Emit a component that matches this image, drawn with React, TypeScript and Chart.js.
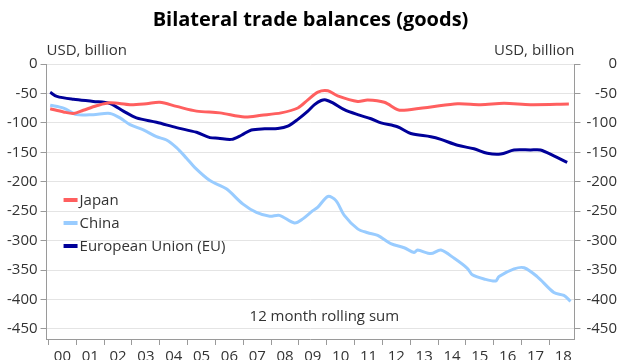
import React, { useEffect, useRef } from 'react';
import { Chart, registerables } from 'chart.js';

Chart.register(...registerables);

const yearLabels = ['00', '01', '02', '03', '04', '05', '06', '07', '08', '09', '10', '11', '12', '13', '14', '15', '16', '17', '18'];
const yTickValues = [0, -50, -100, -150, -200, -250, -300, -350, -400, -450];

const japanYears = [2000.06, 2000.54, 2000.9, 2001.25, 2001.73, 2002.21, 2002.93, 2003.52, 2004.0, 2004.6, 2005.32, 2006.16, 2007.05, 2007.65, 2008.36, 2008.96, 2009.32, 2009.68, 2010.04, 2010.39, 2011.11, 2011.47, 2012.07, 2012.54, 2012.78, 2013.74, 2014.7, 2015.53, 2016.37, 2017.32, 2018.7];
const japanValues = [-76, -81.5, -84, -78.6, -71, -66, -69, -67.4, -65, -72, -80, -83, -90, -87, -83, -74.7, -61, -47.7, -45.5, -54, -63.5, -61, -65, -77.5, -78.6, -73, -67.4, -69, -66.8, -69, -68];

const chinaYears = [2000.06, 2000.54, 2001.01, 2001.61, 2002.21, 2002.57, 2002.93, 2003.41, 2003.88, 2004.24, 2004.6, 2004.96, 2005.26, 2005.8, 2006.39, 2006.99, 2007.47, 2007.95, 2008.3, 2008.84, 2009.14, 2009.5, 2009.68, 2010.04, 2010.33, 2010.63, 2011.11, 2011.47, 2011.83, 2012.3, 2012.78, 2013.14, 2013.26, 2013.74, 2014.1, 2014.58, 2015.05, 2015.23, 2015.65, 2016.07, 2016.19, 2016.73, 2017.09, 2017.56, 2018.16, 2018.52, 2018.76];
const chinaValues = [-70, -75, -86, -86, -84, -91.5, -103, -112, -123.5, -129, -142, -160, -176, -198, -212, -238, -252, -258.5, -257, -270, -263, -249, -243, -225, -232, -257, -280, -286.5, -291, -305, -312, -320, -316, -322, -316, -330, -347, -358, -365, -368.5, -361, -348, -346, -361, -388, -393, -403];

const euYears = [2000.06, 2000.3, 2000.9, 2001.61, 2002.21, 2002.69, 2003.16, 2003.88, 2004.6, 2005.32, 2005.8, 2006.1, 2006.57, 2006.93, 2007.29, 2007.77, 2008.24, 2008.6, 2008.96, 2009.32, 2009.56, 2009.8, 2009.97, 2010.22, 2010.63, 2011.11, 2011.59, 2011.95, 2012.54, 2013.02, 2013.74, 2014.1, 2014.7, 2015.29, 2015.77, 2016.25, 2016.73, 2017.32, 2017.68, 2018.16, 2018.64];
const euValues = [-48, -55, -60, -63.5, -67, -80, -91.5, -99, -108, -116, -125, -126, -128, -121, -112, -110, -109.5, -105.6, -94, -80, -69, -62, -61, -66, -77.5, -86, -93, -100, -106.5, -118, -123.5, -128, -138, -144, -151.7, -153, -146, -146, -146, -156, -167];

const seriesNames = ['Japan', 'China', 'European Union (EU)'];
const seriesColors = ['#ff5f5f', '#99ccff', '#000099'];

const FONT = "'Open Sans', 'DejaVu Sans', sans-serif";
const TEXT = '#333333';

export default function App() {
  const ref = useRef<HTMLCanvasElement>(null);

  useEffect(() => {
    const canvas = ref.current;
    if (!canvas) return;

    const overlay = {
      id: 'overlay',
      afterDraw(chart: any) {
        const c = chart.ctx as CanvasRenderingContext2D;
        const a = chart.chartArea;
        c.save();
        c.textBaseline = 'middle';
        // title
        c.fillStyle = '#000';
        c.font = `bold 20px ${FONT}`;
        c.textAlign = 'center';
        c.fillText('Bilateral trade balances (goods)', (a.left + a.right) / 2, 20);
        // units
        c.fillStyle = TEXT;
        c.font = `15px ${FONT}`;
        c.textAlign = 'left';
        c.fillText('USD, billion', a.left, 51);
        c.textAlign = 'right';
        c.fillText('USD, billion', a.right, 51);
        // legend
        c.textAlign = 'left';
        seriesNames.forEach((name, i) => {
          const y = a.top + 136 + i * 23;
          c.strokeStyle = seriesColors[i];
          c.lineWidth = 4;
          c.beginPath();
          c.moveTo(a.left + 17, y);
          c.lineTo(a.left + 31, y);
          c.stroke();
          c.fillStyle = TEXT;
          c.fillText(name, a.left + 33, y + 1);
        });
        // note
        c.fillText('12 month rolling sum', a.left + 203, a.top + 253);
        c.restore();
      },
    };

    const mk = (xs: number[], ys: number[]) => xs.map((x, i) => ({ x, y: ys[i] }));
    const datasets = [mk(japanYears, japanValues), mk(chinaYears, chinaValues), mk(euYears, euValues)].map((d, i) => ({
      label: seriesNames[i],
      data: d,
      borderColor: seriesColors[i],
      backgroundColor: seriesColors[i],
      borderWidth: 3,
      pointRadius: 0,
      tension: 0.3,
      fill: false,
    }));

    const yAxisCommon = {
      type: 'linear' as const,
      min: -467,
      max: 0,
      afterBuildTicks: (s: any) => {
        s.ticks = yTickValues.map((v) => ({ value: v }));
      },
      border: { color: '#9a9a9a', width: 1 },
      ticks: { font: { family: FONT, size: 15 }, color: TEXT, padding: 3 },
    };

    const chart = new Chart(canvas, {
      type: 'line',
      data: { datasets: datasets as any },
      options: {
        responsive: false,
        animation: false,
        layout: { padding: { top: 64, left: 4, right: 23, bottom: 3 } },
        plugins: { legend: { display: false }, tooltip: { enabled: false }, title: { display: false } },
        scales: {
          x: {
            type: 'linear',
            min: 1999.93,
            max: 2018.9,
            afterBuildTicks: (s: any) => {
              const t: any[] = [];
              for (let y = 2000; y <= 2018; y++) {
                t.push({ value: y });
                t.push({ value: y + 0.5 });
              }
              s.ticks = t;
            },
            border: { color: '#9a9a9a', width: 1 },
            grid: {
              drawOnChartArea: false,
              tickLength: 6,
              tickColor: (ctx: any) => (ctx.tick && ctx.tick.value % 1 === 0 ? '#9a9a9a' : 'rgba(0,0,0,0)'),
            },
            ticks: {
              autoSkip: false,
              maxRotation: 0,
              padding: 3,
              font: { family: FONT, size: 15 },
              color: TEXT,
              callback: (v: any) => {
                const n = Number(v);
                if (Math.abs(n % 1 - 0.5) < 1e-6) return yearLabels[Math.floor(n) - 2000];
                return '';
              },
            },
          },
          y: {
            ...yAxisCommon,
            position: 'left',
            grid: { color: '#e4e4e4', tickLength: 6, tickColor: '#9a9a9a' },
          },
          y2: {
            ...yAxisCommon,
            position: 'right',
            grid: { drawOnChartArea: false, tickLength: 6, tickColor: '#9a9a9a' },
            ticks: { ...yAxisCommon.ticks, crossAlign: 'far' },
          },
        },
      } as any,
      plugins: [overlay],
    });

    return () => chart.destroy();
  }, []);

  return (
    <div style={{ position: 'fixed', left: 0, top: 0, width: 640, height: 360, overflow: 'hidden', background: '#fff' }}>
      <canvas ref={ref} width={640} height={372} style={{ display: 'block' }} />
    </div>
  );
}
